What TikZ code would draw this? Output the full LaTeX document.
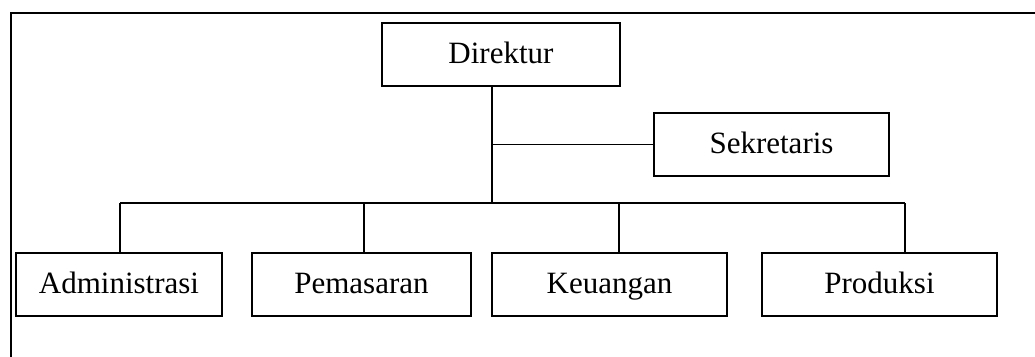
\documentclass[tikz,border=0pt]{standalone}
\usepackage{fontspec}
\setmainfont{Liberation Serif}
\begin{document}
\begin{tikzpicture}[x=1pt,y=-1pt,
  box/.style={draw,line width=1.3pt,minimum height=63pt,inner sep=0pt,text height=22pt,text depth=5pt,font=\fontsize{31}{36}\selectfont},
  conn/.style={line width=1.2pt}]
\useasboundingbox (0,0) rectangle (1035,356);
\draw[line width=2.2pt] (11,357) -- (11,13) -- (1036,13);
\node[box,minimum width=238pt] (dir) at (501,54.5) {Direktur};
\node[box,minimum width=235pt] (sek) at (771.5,144.5) {Sekretaris};
\node[box,minimum width=206pt] (adm) at (119,284.5) {Administrasi};
\node[box,minimum width=219pt] (pem) at (361.5,284.5) {Pemasaran};
\node[box,minimum width=235pt] (keu) at (609.5,284.5) {Keuangan};
\node[box,minimum width=235pt] (pro) at (879.5,284.5) {Produksi};
\coordinate (t) at (492,203);
\coordinate (b1) at (120,203);
\coordinate (b2) at (364,203);
\coordinate (b3) at (619,203);
\coordinate (b4) at (905,203);
\draw[conn] (dir.south -| t) -- (t);
\draw[conn] (t |- sek.west) -- (sek.west);
\draw[conn] (b1) -- (b4);
\draw[conn] (b1) -- (b1 |- adm.north);
\draw[conn] (b2) -- (b2 |- pem.north);
\draw[conn] (b3) -- (b3 |- keu.north);
\draw[conn] (b4) -- (b4 |- pro.north);
\end{tikzpicture}
\end{document}
